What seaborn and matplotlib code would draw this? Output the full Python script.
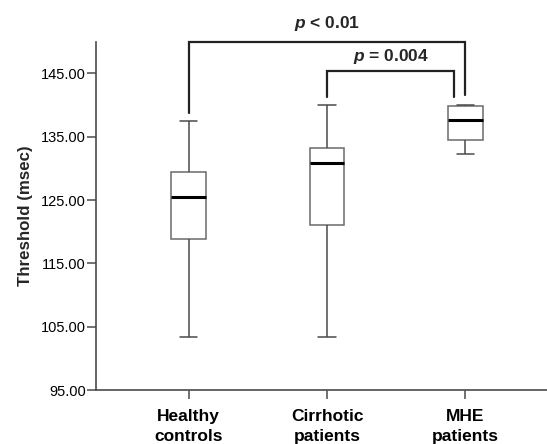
import numpy as np
import pandas as pd
import seaborn as sns
import matplotlib
matplotlib.use("Agg")
import matplotlib.pyplot as plt

# Five-number summaries (min, Q1, median, Q3, max)
categories = ["Healthy\ncontrols", "Cirrhotic\npatients", "MHE\npatients"]
healthy = [103.3, 118.8, 125.5, 129.5, 137.4]
cirrhotic = [103.3, 121.0, 130.9, 133.2, 140.0]
mhe = [132.3, 134.4, 137.6, 139.8, 140.0]
yticks = [95, 105, 115, 125, 135, 145]

# significance brackets: (x_left, x_right, y_top, y_left_end, y_right_end)
bracket_outer = (0, 2, 150.0, 138.7, 141.6)
bracket_inner = (1, 1.92, 145.4, 141.2, 141.3)
label_outer = ("$\\boldsymbol{p}$ < 0.01", 1.0, 152.8)
label_inner = ("$\\boldsymbol{p}$ = 0.004", 1.46, 147.6)

sns.set_theme(style="white")
plt.rcParams["font.family"] = ["Liberation Sans", "DejaVu Sans"]
plt.rcParams["mathtext.fontset"] = "custom"
plt.rcParams["mathtext.bfit"] = "Liberation Sans:bold:italic"
plt.rcParams["mathtext.bf"] = "Liberation Sans:bold"
plt.rcParams["mathtext.it"] = "Liberation Sans:italic"
plt.rcParams["mathtext.rm"] = "Liberation Sans"

df = pd.DataFrame({
    "group": np.repeat(categories, 5),
    "value": healthy + cirrhotic + mhe,
})

fig = plt.figure(figsize=(5.47, 4.44), dpi=100)
ax = fig.add_axes([0.1755, 0.1216, 0.8245, 0.7845])

sns.boxplot(data=df, x="group", y="value", order=categories, ax=ax,
            width=0.25, color="white", linecolor="#4a4a4a", linewidth=1.1,
            whis=(0, 100), saturation=1,
            boxprops=dict(edgecolor="#6a6a6a"),
            medianprops=dict(color="black", linewidth=2.2))

ax.set_ylim(95, 150)
ax.set_xlim(-0.67, 2.59)
ax.set_yticks(yticks)
ax.set_yticklabels([f"{v:.2f}" for v in yticks], fontsize=10.5)
ax.set_xticks(range(len(categories)))
ax.set_xticklabels(categories, fontsize=12.5, fontweight="bold", linespacing=1.35)
ax.set_xlabel("")
ax.set_ylabel("Threshold (msec)", fontsize=12.2, fontweight="bold", labelpad=6)

for side in ["top", "right"]:
    ax.spines[side].set_visible(False)
for side in ["left", "bottom"]:
    ax.spines[side].set_color("#4a4a4a")
    ax.spines[side].set_linewidth(1.2)
ax.tick_params(axis="both", direction="out", length=6.2, width=1.1, color="#4a4a4a",
               left=True, bottom=True, labelcolor="black")
ax.tick_params(axis="y", pad=1)
ax.tick_params(axis="x", pad=7.8)

for (xl, xr, yt, yl, yr) in [bracket_outer, bracket_inner]:
    ax.plot([xl, xl, xr, xr], [yl, yt, yt, yr], color="#222222", lw=1.6,
            clip_on=False, solid_joinstyle="miter")

for (txt, tx, ty) in [label_outer, label_inner]:
    ax.text(tx, ty, txt, ha="center", va="center", fontsize=12.5, fontweight="bold",
            clip_on=False)

fig.savefig("out.png", dpi=100)
